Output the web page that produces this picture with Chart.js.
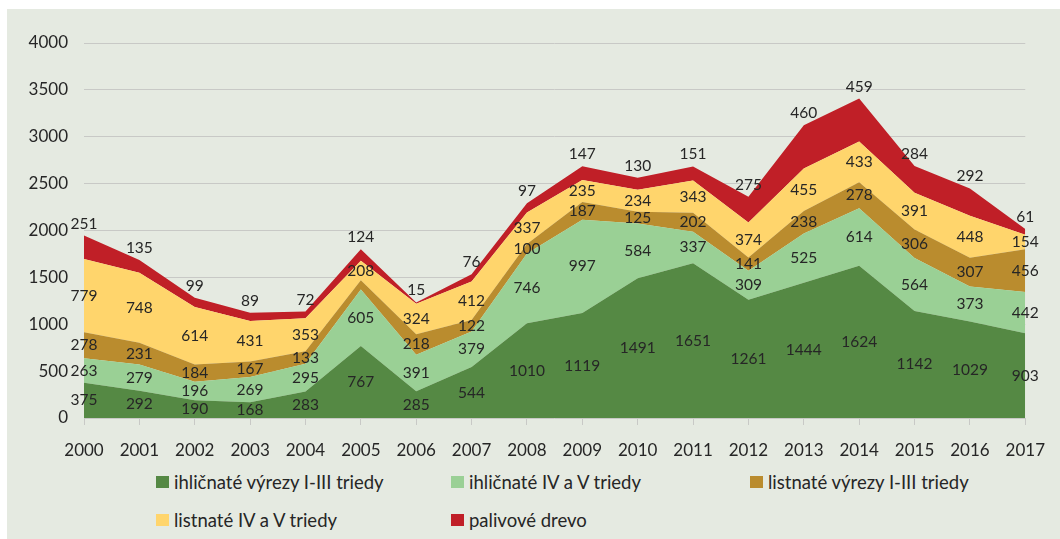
<!DOCTYPE html>
<html>
<head>
<meta charset="utf-8">
<script src="https://cdn.jsdelivr.net/npm/chart.js@4.4.0/dist/chart.umd.min.js"></script>
<style>
html,body{margin:0;padding:0;background:#fff;width:1060px;height:539px;overflow:hidden}
#frame{position:absolute;left:7px;top:9px;width:1053px;height:530px;background:#E5EAE1;font-family:Lato,sans-serif}
#wrap{position:absolute;left:0;top:0;width:1053px;height:460px}
#legend{position:absolute;left:0;top:460px;width:1053px;height:70px}
.item{position:absolute;height:24px;display:flex;align-items:center;font-size:18.5px;color:#262626;white-space:nowrap}
.box{width:13px;height:12px;margin-right:5px;flex:none}
</style>
</head>
<body>
<div id="frame">
  <div id="wrap"><canvas id="c" width="1053" height="460"></canvas></div>
  <div id="legend"></div>
</div>
<script>
const years = ['2000','2001','2002','2003','2004','2005','2006','2007','2008','2009','2010','2011','2012','2013','2014','2015','2016','2017'];
const ihlVyrezy = [375,292,190,168,283,767,285,544,1010,1119,1491,1651,1261,1444,1624,1142,1029,903];
const ihlIVV    = [263,279,196,269,295,605,391,379,746,997,584,337,309,525,614,564,373,442];
const lisVyrezy = [278,231,184,167,133,97,218,122,100,187,125,202,141,238,278,306,307,456];
const lisIVV    = [779,748,614,431,353,208,324,412,337,235,234,343,374,455,433,391,448,154];
const palivo    = [251,135,99,89,72,124,15,76,97,147,130,151,275,460,459,284,292,61];
const seriesNames = ['ihličnaté výrezy I-III triedy','ihličnaté IV a V triedy','listnaté výrezy I-III triedy','listnaté IV a V triedy','palivové drevo'];
const seriesColors = ['#558944','#9AD095','#BA8C2E','#FFD56C','#C01F27'];
const yTicks = [0,500,1000,1500,2000,2500,3000,3500,4000];
// labels not shown in the original (series index, year)
const hiddenLabels = [[2,'2005']];

const seriesData = [ihlVyrezy, ihlIVV, lisVyrezy, lisIVV, palivo];
const datasets = seriesData.map((d,i)=>({
  label: seriesNames[i],
  data: d,
  backgroundColor: seriesColors[i],
  borderColor: seriesColors[i],
  borderWidth: 0,
  pointRadius: 0,
  pointHoverRadius: 0,
  tension: 0,
  fill: i===0 ? 'origin' : '-1'
}));

const labelPlugin = {
  id: 'bandLabels',
  afterDatasetsDraw(chart){
    const ctx = chart.ctx;
    const ys = chart.scales.y;
    ctx.save();
    ctx.font = '15.5px Lato, sans-serif';
    ctx.fillStyle = '#262626';
    ctx.textAlign = 'center';
    ctx.textBaseline = 'middle';
    const n = chart.data.datasets.length;
    chart.data.datasets.forEach((ds, i)=>{
      const meta = chart.getDatasetMeta(i);
      meta.data.forEach((pt, j)=>{
        const yr = chart.data.labels[j];
        if (hiddenLabels.some(h=>h[0]===i && h[1]===yr)) return;
        const top = pt.y;
        const bottom = i===0 ? ys.getPixelForValue(0) : chart.getDatasetMeta(i-1).data[j].y;
        const y = (i === n-1) ? top - 12 : (top + bottom)/2;
        ctx.fillText(String(ds.data[j]), pt.x, y);
      });
    });
    ctx.restore();
  }
};

const chart = new Chart(document.getElementById('c'), {
  type: 'line',
  data: { labels: years, datasets },
  options: {
    responsive: false,
    animation: false,
    devicePixelRatio: 1,
    layout: { padding: { left: 0, right: 27, top: 34, bottom: 0 } },
    plugins: { legend: { display: false }, tooltip: { enabled: false } },
    scales: {
      x: {
        offset: false,
        grid: { drawOnChartArea: false, drawTicks: true, tickLength: 7, color: '#C8C9C6' },
        border: { display: false },
        ticks: { font: { family: 'Lato', size: 17 }, color: '#262626', padding: 15, maxRotation: 0, autoSkip: false },
        afterFit(s){ s.height = 51; }
      },
      y: {
        stacked: true,
        min: 0, max: 4000,
        afterBuildTicks(s){ s.ticks = yTicks.map(v=>({value:v})); },
        grid: { color: '#C8C9C6', drawTicks: false, lineWidth: 1 },
        border: { display: false },
        ticks: { font: { family: 'Lato', size: 17 }, color: '#262626', padding: 16, callback: v => String(v) },
        afterFit(s){ s.width = 77; }
      }
    }
  },
  plugins: [labelPlugin]
});

// HTML legend in a 3-column grid
const legend = document.getElementById('legend');
const colLeft = [149, 444, 743];
const rowTop = [1, 39];
chart.data.datasets.forEach((ds, i)=>{
  const it = document.createElement('div');
  it.className = 'item';
  it.style.left = colLeft[i % 3] + 'px';
  it.style.top = rowTop[Math.floor(i / 3)] + 'px';
  const b = document.createElement('span');
  b.className = 'box';
  b.style.background = ds.backgroundColor;
  const t = document.createElement('span');
  t.textContent = ds.label;
  it.appendChild(b); it.appendChild(t);
  legend.appendChild(it);
});
</script>
</body>
</html>
